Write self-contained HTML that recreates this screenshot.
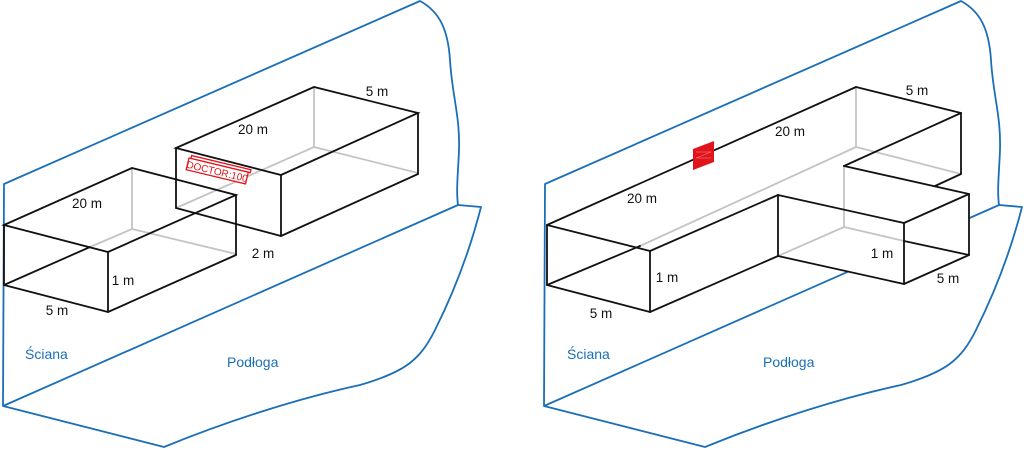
<!DOCTYPE html>
<html><head><meta charset="utf-8"><style>
html,body{margin:0;padding:0;background:#fff;}
svg{display:block;}
text{font-family:"Liberation Sans",sans-serif;}
</style></head><body>
<svg width="1024" height="450" viewBox="0 0 1024 450" xmlns="http://www.w3.org/2000/svg">
<defs>
<g id="env" fill="none" stroke="#1a6fb8" stroke-width="1.8" stroke-linejoin="round">
  <path d="M3,406 L4,184 L420,1 C440,12 448,30 450,60 C452,95 460,115 459,150 C458,175 456,190 458,205 L3,406 Z"/>
  <path d="M3,406 L164,447 C230,420 300,398 360,385 C405,372 420,360 435,330 C455,290 470,250 481,207 L458,205"/>
</g>
</defs>

<!-- LEFT PANEL -->
<use href="#env"/>
<g fill="none" stroke-width="1.8" stroke-linecap="round">
  <g stroke="#c4c4c4">
    <line x1="132" y1="168" x2="132" y2="229"/>
    <line x1="132" y1="229" x2="236" y2="254"/>
    <line x1="132" y1="229" x2="90" y2="247"/>
    <line x1="314" y1="87" x2="314" y2="147"/>
    <line x1="314" y1="147" x2="418" y2="173"/>
    <line x1="314" y1="147" x2="176" y2="208"/>
  </g>
  <g stroke="#111">
    <polygon points="176,148 314,87 418,113 281,175"/>
    <line x1="176" y1="148" x2="176" y2="208"/>
    <line x1="281" y1="175" x2="281" y2="236"/>
    <line x1="418" y1="113" x2="418" y2="174"/>
    <line x1="176" y1="208" x2="281" y2="236"/>
    <line x1="281" y1="236" x2="418" y2="174"/>
    <polygon points="4,225 132,168 236,195 108,252"/>
    <line x1="4" y1="225" x2="4" y2="285"/>
    <line x1="108" y1="252" x2="108" y2="312"/>
    <line x1="236" y1="195" x2="236" y2="255"/>
    <line x1="4" y1="285" x2="108" y2="312"/>
    <line x1="108" y1="312" x2="236" y2="255"/>
    <line x1="4" y1="285" x2="90" y2="247"/>
  </g>
</g>
<g transform="translate(189,158) rotate(13.5)" fill="none" stroke="#e0141a" stroke-width="1.3">
  <rect x="2" y="-3" width="61" height="3" fill="#fff"/>
  <rect x="0" y="0" width="61" height="12" fill="#fff"/>
  <text x="30.5" y="10" font-size="10" fill="#e0141a" stroke="none" text-anchor="middle">DOCTOR:100</text>
</g>
<g font-size="13.5" fill="#111">
  <text x="253" y="134" text-anchor="middle">20 m</text>
  <text x="377" y="96" text-anchor="middle">5 m</text>
  <text x="87" y="208" text-anchor="middle">20 m</text>
  <text x="263" y="258" text-anchor="middle">2 m</text>
  <text x="123" y="285" text-anchor="middle">1 m</text>
  <text x="57" y="315" text-anchor="middle">5 m</text>
</g>
<g font-size="14" fill="#1a6fb8">
  <text x="25" y="359">Ściana</text>
  <text x="227" y="367">Podłoga</text>
</g>

<!-- RIGHT PANEL -->
<use href="#env" transform="translate(541,0)"/>
<polygon points="547,225 856,87 961,113 961,174 935,186 969,194 969,255 904,284 778,256 650,312 547,285" fill="#fff"/>
<g fill="none" stroke-width="1.8" stroke-linecap="round">
  <g stroke="#c4c4c4">
    <line x1="856" y1="87" x2="856" y2="147"/>
    <line x1="856" y1="147" x2="961" y2="174"/>
    <line x1="856" y1="147" x2="640" y2="246"/>
    <line x1="844" y1="166" x2="844" y2="227"/>
    <line x1="844" y1="227" x2="778" y2="256"/>
    <line x1="844" y1="227" x2="904" y2="241"/>
  </g>
  <g stroke="#111">
    <line x1="547" y1="225" x2="856" y2="87"/>
    <line x1="856" y1="87" x2="961" y2="113"/>
    <line x1="547" y1="225" x2="650" y2="251"/>
    <line x1="650" y1="251" x2="778" y2="195"/>
    <line x1="844" y1="166" x2="961" y2="113"/>
    <line x1="961" y1="113" x2="961" y2="174"/>
    <line x1="961" y1="174" x2="935" y2="186"/>
    <line x1="778" y1="195" x2="904" y2="223"/>
    <line x1="904" y1="223" x2="969" y2="194"/>
    <line x1="844" y1="166" x2="969" y2="194"/>
    <line x1="904" y1="241" x2="969" y2="255"/>
    <line x1="547" y1="225" x2="547" y2="285"/>
    <line x1="650" y1="251" x2="650" y2="312"/>
    <line x1="778" y1="195" x2="778" y2="256"/>
    <line x1="904" y1="223" x2="904" y2="284"/>
    <line x1="969" y1="194" x2="969" y2="255"/>
    <line x1="547" y1="285" x2="650" y2="312"/>
    <line x1="650" y1="312" x2="778" y2="256"/>
    <line x1="778" y1="256" x2="904" y2="284"/>
    <line x1="904" y1="284" x2="969" y2="255"/>
    <line x1="547" y1="285" x2="640" y2="246"/>
  </g>
</g>
<polygon points="693,149 714,141 714,162 693,170" fill="#e0141a"/>
<g stroke="#f08080" stroke-width="0.6" fill="none"><line x1="696" y1="152" x2="711" y2="152"/><line x1="696" y1="158" x2="711" y2="152"/><line x1="696" y1="158" x2="711" y2="158"/></g>
<g font-size="13.5" fill="#111">
  <text x="790" y="136" text-anchor="middle">20 m</text>
  <text x="917" y="95" text-anchor="middle">5 m</text>
  <text x="642" y="203" text-anchor="middle">20 m</text>
  <text x="667" y="282" text-anchor="middle">1 m</text>
  <text x="882" y="258" text-anchor="middle">1 m</text>
  <text x="948" y="283" text-anchor="middle">5 m</text>
  <text x="601" y="318" text-anchor="middle">5 m</text>
</g>
<g font-size="14" fill="#1a6fb8">
  <text x="567" y="359">Ściana</text>
  <text x="763" y="367">Podłoga</text>
</g>
</svg>
</body></html>
